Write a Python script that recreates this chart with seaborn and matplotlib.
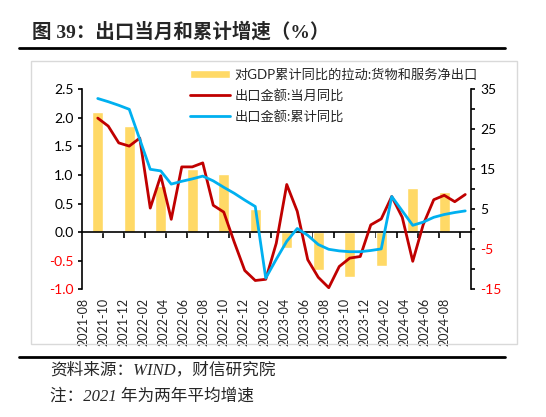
import numpy as np
import pandas as pd
import matplotlib
matplotlib.use("Agg")
import matplotlib.pyplot as plt
import seaborn as sns
from matplotlib.lines import Line2D
from matplotlib.patches import Rectangle

# category axis: every month from 2021-08 to 2024-08
all_months = list(pd.period_range("2021-08", "2024-08", freq="M").strftime("%Y-%m"))
x_labels = all_months[::2]

# monthly series start in 2021-09
months = all_months[1:]
export_month_yoy = [27.8, 25.8, 21.6, 20.8, 22.8, 5.3, 13.4, 2.5, 15.6, 15.6, 16.6, 6.0,
                    4.3, -3.2, -10.3, -12.8, -12.5, -3.5, 11.2, 4.5, -7.6, -12.0, -14.6, -9.3,
                    -7.2, -6.8, 1.1, 2.6, 8.2, 3.0, -8.0, 1.2, 7.4, 8.5, 6.9, 8.7]
export_cum_yoy = [32.7, 31.9, 31.0, 30.0, 22.5, 15.0, 14.6, 11.3, 12.0, 12.6, 13.3, 12.1,
                  10.5, 9.0, 7.3, 5.7, -12.2, -7.5, -3.0, 0.2, -1.5, -3.8, -5.0, -5.4,
                  -5.6, -5.6, -5.3, -4.9, 8.2, 4.6, 1.0, 1.8, 3.0, 3.7, 4.2, 4.6]

# quarterly contribution of net exports to GDP growth
bar_months = ["2021-09", "2021-12", "2022-03", "2022-06", "2022-09", "2022-12",
              "2023-03", "2023-06", "2023-09", "2023-12", "2024-03", "2024-06"]
net_export_pull = [2.11, 1.85, 0.81, 1.10, 1.01, 0.41, -0.28, -0.67, -0.78, -0.59, 0.78, 0.71]

labels = ["对GDP累计同比的拉动:货物和服务净出口", "出口金额:当月同比", "出口金额:累计同比"]

BAR_C = "#FFD966"
RED_C = "#C00000"
BLUE_C = "#00B0F0"

sns.set_theme(style="white")
plt.rcParams["font.family"] = ["Lato", "Noto Sans CJK SC"]
plt.rcParams["axes.unicode_minus"] = False

line_df = pd.DataFrame({
    "pos": [all_months.index(m) for m in months],
    "month": export_month_yoy,
    "cum": export_cum_yoy,
})
bar_df = pd.DataFrame({
    "pos": [all_months.index(m) for m in bar_months],
    "val": net_export_pull,
})

fig = plt.figure(figsize=(5.46, 4.17), dpi=100)
W, H = 546, 417
ax = fig.add_axes([82 / W, 1 - 289.3 / H, (470.5 - 82) / W, 200 / H])

sns.barplot(data=bar_df, x="pos", y="val", native_scale=True, width=0.34,
            color=BAR_C, saturation=1, ax=ax, label=labels[0])
ax2 = ax.twinx()
sns.lineplot(data=line_df, x="pos", y="month", color=RED_C, linewidth=2,
             ax=ax2, label=labels[1])
sns.lineplot(data=line_df, x="pos", y="cum", color=BLUE_C, linewidth=2,
             ax=ax2, label=labels[2])

ax.set_xlim(-0.5, len(all_months) - 0.5)
ax.set_ylim(-1.0, 2.5)
ax2.set_ylim(-15, 35)

# left axis
yt = np.arange(-1.0, 2.51, 0.5)
ax.set_yticks(yt, [f"{v:.1f}" for v in yt])
for t, v in zip(ax.get_yticklabels(), yt):
    t.set_color("red" if v < 0 else "black")
# right axis
yt2 = np.arange(-15, 36, 5)
ax2.set_yticks(yt2, [str(v) if (v + 15) % 10 == 0 else "" for v in yt2])
for t, v in zip(ax2.get_yticklabels(), yt2):
    t.set_color("red" if v < 0 else "black")

for a in (ax, ax2):
    a.set_xlabel("")
    a.set_ylabel("")
    for s in a.spines.values():
        s.set_visible(False)
ax.spines["left"].set_visible(True)
ax.spines["bottom"].set_visible(True)
ax.spines["bottom"].set_position(("data", 0))
ax2.spines["right"].set_visible(True)
for s in (ax.spines["left"], ax.spines["bottom"], ax2.spines["right"]):
    s.set_color("black")
    s.set_linewidth(1.2)

ax.tick_params(axis="y", left=True, length=3, width=1.2, color="black",
               labelsize=10, pad=3)
ax2.tick_params(axis="y", right=True, length=3, width=1.2, color="black",
                labelsize=10, pad=4)

# tick marks on the zero line between every second month, labels at the bottom
ax.set_xticks(np.arange(1.5, len(all_months) - 1, 2), [])
ax.tick_params(axis="x", bottom=True, direction="out", length=4, width=1.2,
               color="black", labelbottom=False)
sec = ax.secondary_xaxis("bottom")
sec.set_xticks(np.linspace(-0.4, 34.05, len(x_labels)), x_labels, rotation=90)
sec.tick_params(length=0, pad=6, labelsize=9)
sec.spines["bottom"].set_visible(False)

for a in (ax, ax2):
    if a.get_legend():
        a.get_legend().remove()
h1, l1 = ax.get_legend_handles_labels()
h2, l2 = ax2.get_legend_handles_labels()
fig.legend(h1 + h2, l1 + l2, loc="upper left", bbox_to_anchor=(190 / W, 1 - 68 / H),
           frameon=False, fontsize=9.5, handlelength=3.0, handleheight=0.55,
           handletextpad=0.4, labelspacing=0.62, borderpad=0, borderaxespad=0,
           labelcolor="#262626")

# decorations: chart frame, title, rules and notes
fig.add_artist(Rectangle((31 / W, 1 - 344 / H), (517 - 31) / W, (344 - 61) / H,
                         transform=fig.transFigure, fill=False,
                         edgecolor="#D9D9D9", linewidth=1))
fig.add_artist(Line2D([19 / W, 505 / W], [1 - 48.3 / H] * 2, color="black", lw=2))
fig.add_artist(Line2D([19 / W, 505 / W], [1 - 356.7 / H] * 2, color="black", lw=2))
fig.text(32 / W, 1 - 32 / H, "图 39：出口当月和累计增速（%）", fontsize=14,
         fontweight="bold", va="center", family=["Liberation Serif", "Noto Sans CJK SC"])
fig.text(50 / W, 1 - 370 / H, "资料来源：WIND，财信研究院", fontsize=12, style="italic",
         va="center", family=["Liberation Serif", "Noto Sans CJK SC"])
fig.text(50 / W, 1 - 396.5 / H, "注：2021 年为两年平均增速", fontsize=12, style="italic",
         va="center", family=["Liberation Serif", "Noto Sans CJK SC"])

fig.savefig("out.png", dpi=100)
